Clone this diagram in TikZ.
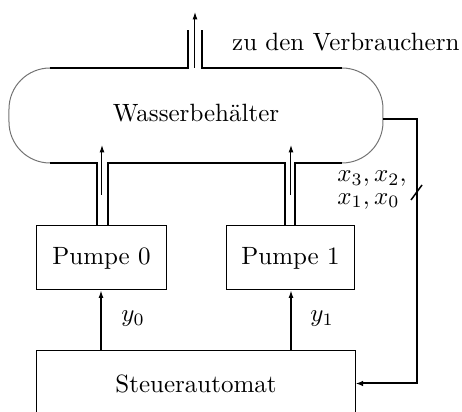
\documentclass[tikz,border=0pt]{standalone}
\usetikzlibrary{arrows.meta}
\begin{document}
\begin{tikzpicture}[x=0.4pt,y=-0.4pt,
  pipe/.style={line width=1pt},
  wall/.style={line width=0.4pt,black!55},
  flow/.style={line width=0.4pt,-{Latex[length=3pt,width=2pt]}},
  box/.style={draw,line width=0.4pt,inner sep=0pt},
  sig/.style={line width=0.45pt,-{Latex[length=3pt,width=2pt]}},
  bus/.style={line width=0.8pt,-{Latex[length=3pt,width=2.2pt]}}]
\useasboundingbox (0,0) rectangle (462,412);
% nodes
\node (wb) at (196,113) {Wasserbeh\"alter};
\node[box,minimum width=51.6pt,minimum height=25.6pt] (p0) at (101.5,258) {Pumpe 0};
\node[box,minimum width=51.2pt,minimum height=25.6pt] (p1) at (290.5,258) {Pumpe 1};
\node[box,minimum width=127.2pt,minimum height=26pt] (st) at (196,383.5) {Steuerautomat};
\node[anchor=east,inner sep=0pt] (zu) at (460,42) {zu den Verbrauchern};
\node[anchor=east,align=left,inner sep=0pt] (xl) at (407,190) {$x_3,x_2,$\\[-3pt]$x_1,x_0$};
\node (y0) at (133,319) {$y_0$};
\node (y1) at (322,319) {$y_1$};
% tank coordinates
\coordinate (tR) at (383,119);
% tank walls
\draw[wall] (50,68) arc (270:180:41) -- (9,122) arc (180:90:41);
\draw[wall] (342,68) arc (270:360:41) -- (383,122) arc (0:90:41);
\draw[pipe] (50,68) -- (188,68) -- (188,30);
\draw[pipe] (342,68) -- (202,68) -- (202,30);
\draw[pipe] (50,163) -- (97,163) -- (97,226);
\draw[pipe] (108,226) -- (108,163) -- (285,163) -- (285,226);
\draw[pipe] (295,226) -- (295,163) -- (342,163);
% flow arrows
\draw[flow] (195,68) -- (195,12);
\draw[flow] (102,195) -- (102,145);
\draw[flow] (291,195) -- (291,145);
% signals
\draw[sig] (st.north -| 101,0) -- (p0.south -| 101,0);
\draw[sig] (st.north -| 291,0) -- (p1.south -| 291,0);
\draw[bus] (tR) -- (417,119) |- (st.east);
\draw[line width=0.6pt] (411,200) -- (422,185);
\end{tikzpicture}
\end{document}
